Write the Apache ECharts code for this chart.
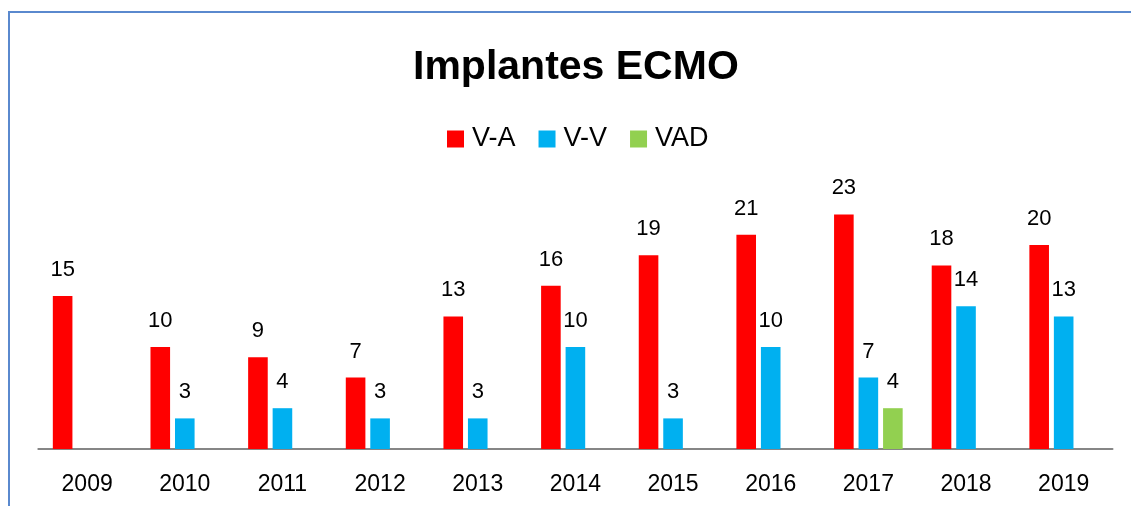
<!DOCTYPE html>
<html>
<head>
<meta charset="utf-8">
<script src="https://cdn.jsdelivr.net/npm/echarts@6/dist/echarts.min.js"></script>
<style>
html,body{margin:0;padding:0;background:#fff;}
#c{width:1131px;height:506px;}
</style>
</head>
<body>
<div id="c"></div>
<script>
const years = ['2009','2010','2011','2012','2013','2014','2015','2016','2017','2018','2019'];
const va = [15,10,9,7,13,16,19,21,23,18,20];
const vv = [null,3,4,3,3,10,3,10,7,14,13];
const vad = [null,null,null,null,null,null,null,null,4,null,null];

const FONT = 'Liberation Sans';
const chart = echarts.init(document.getElementById('c'), null, {renderer:'canvas'});
const lbl = {show:true, position:'top', distance:15, color:'#000', fontFamily:FONT, fontSize:22};
function bar(name, data, color){
  return {name, type:'bar', data, barWidth:19.6, barGap:'25%',
    itemStyle:{color}, label:lbl, emphasis:{disabled:true}};
}
chart.setOption({
  animation:false,
  backgroundColor:'#fff',
  title:{text:'Implantes ECMO', left:408, top:42,
    textStyle:{fontFamily:FONT, fontWeight:'bold', fontSize:41, lineHeight:41, color:'#000'}},
  legend:{left:442, top:120, itemWidth:17, itemHeight:17, itemGap:23, icon:'rect',
    textStyle:{fontFamily:FONT, fontSize:27, lineHeight:28, color:'#000', padding:[0,0,0,3]},
    data:['V-A','V-V','VAD']},
  grid:{left:38.3, right:18.5, top:194, bottom:57, containLabel:false},
  xAxis:{type:'category', data:years,
    axisLine:{lineStyle:{color:'#868686', width:2}},
    axisTick:{show:false},
    axisLabel:{fontFamily:FONT, fontSize:23, color:'#000', margin:24}},
  yAxis:{type:'value', min:0, max:25, show:false, splitLine:{show:false}},
  series:[bar('V-A', va, '#FF0000'), bar('V-V', vv, '#00B0F0'), bar('VAD', vad, '#92D050')],
  graphic:[{type:'rect', silent:true, z:100,
    shape:{x:9, y:12, width:1200, height:600},
    style:{fill:null, stroke:'#5A89CE', lineWidth:2}}]
});
</script>
</body>
</html>
